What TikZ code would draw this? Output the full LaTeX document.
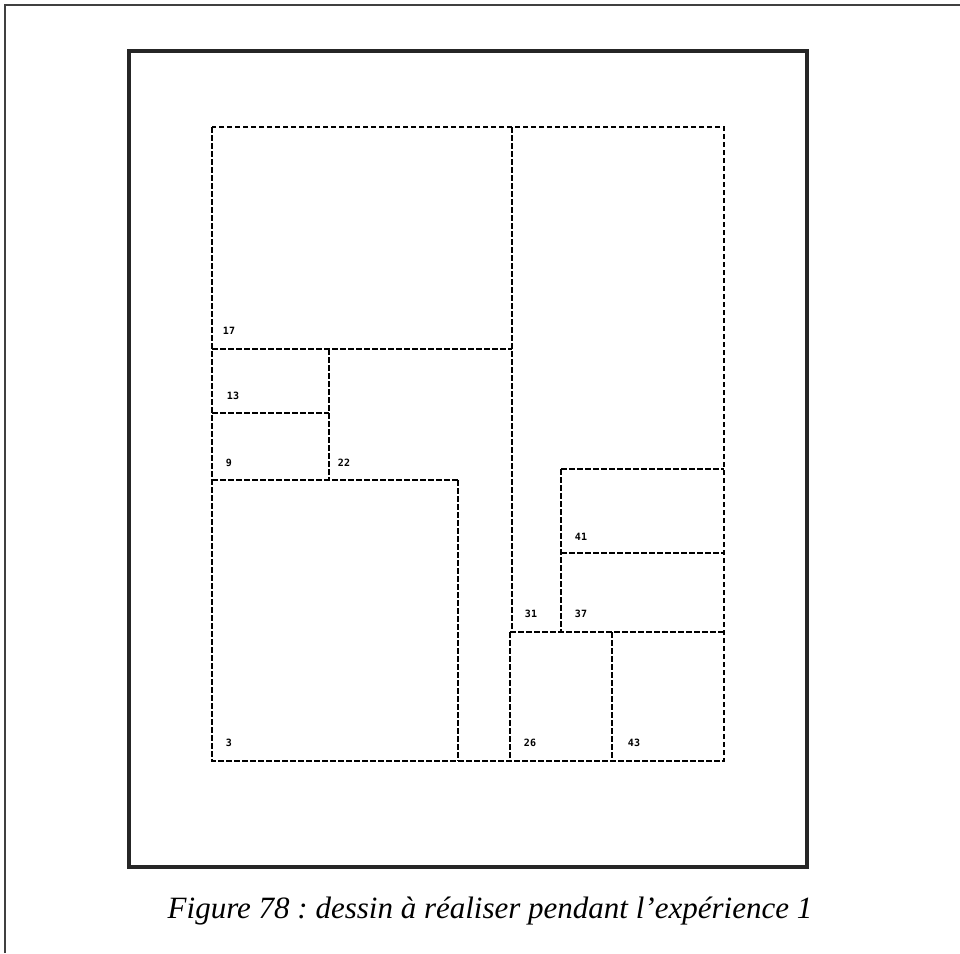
\documentclass[tikz,border=0pt]{standalone}
\usepackage{fontspec}
\setmainfont{Liberation Serif}
\newfontfamily\lblfont{DejaVu Sans Mono}
\frenchspacing
\begin{document}
\begin{tikzpicture}[x=1pt,y=-1pt,
  cell/.style={draw=black,line width=2.5pt,dash pattern=on 5.5pt off 2.5pt},
  lbl/.style={font=\lblfont\bfseries\fontsize{10}{10}\selectfont,inner sep=0pt},
  frame/.style={draw=black!85,line width=3.5pt},
  outer/.style={draw=black!75,line width=1.5pt}]
\useasboundingbox (0,0) rectangle (960,953);
% outer page frame (top and left edges)
\draw[outer] (5,953) -- (5,5) -- (960,5);
% thick inner frame
\draw[frame] (129,51) rectangle (807,867);
% dashed cells
\draw[cell] (212,127) rectangle (724,761);
\draw[cell] (512,127) -- (512,632);
\draw[cell] (212,349) -- (512,349);
\draw[cell] (329,349) -- (329,480);
\draw[cell] (212,413) -- (329,413);
\draw[cell] (212,480) -- (458,480);
\draw[cell] (458,480) -- (458,761);
\draw[cell] (561,469) -- (724,469);
\draw[cell] (561,469) -- (561,632);
\draw[cell] (561,553) -- (724,553);
\draw[cell] (510,632) -- (724,632);
\draw[cell] (510,632) -- (510,761);
\draw[cell] (612,632) -- (612,761);
% labels
\node[lbl] (l17) at (229,331) {17};
\node[lbl] (l13) at (233,396) {13};
\node[lbl] (l9) at (229,463) {9};
\node[lbl] (l22) at (344,463) {22};
\node[lbl] (l3) at (229,743) {3};
\node[lbl] (l26) at (530,743) {26};
\node[lbl] (l43) at (634,743) {43};
\node[lbl] (l31) at (531,614) {31};
\node[lbl] (l37) at (581,614) {37};
\node[lbl] (l41) at (581,537) {41};
% caption
\node[font=\itshape\fontsize{31}{31}\selectfont,inner sep=0pt,anchor=base] (cap) at (490,918) {Figure 78 : dessin à réaliser pendant l’expérience 1};
\end{tikzpicture}
\end{document}
